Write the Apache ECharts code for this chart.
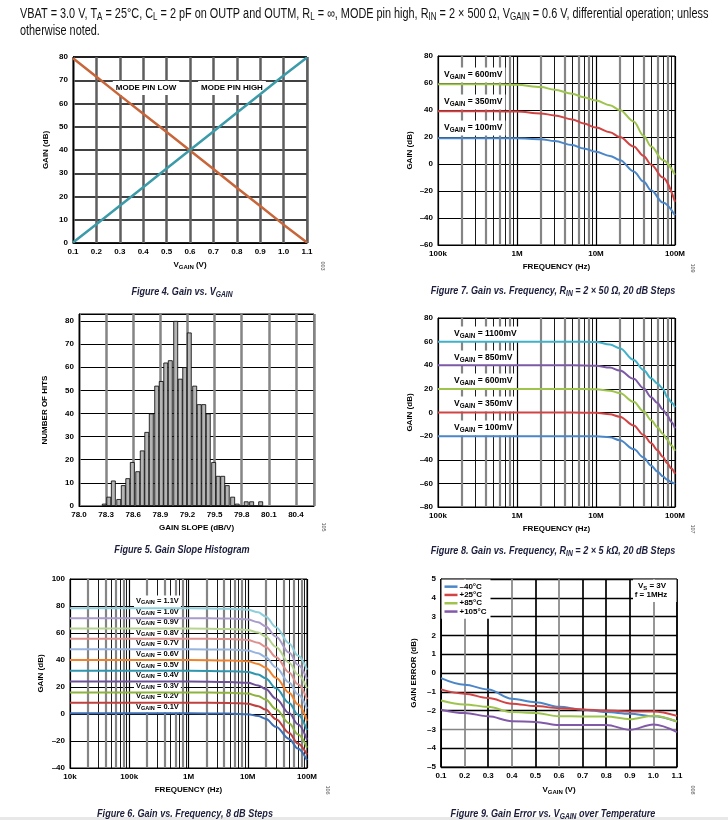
<!DOCTYPE html>
<html><head><meta charset="utf-8">
<script src="https://cdn.jsdelivr.net/npm/echarts@6/dist/echarts.min.js"></script>
<style>html,body{margin:0;padding:0;background:#fff}#c{width:728px;height:820px}</style>
</head><body><div id="c"></div>
<script>
// ---------------- DATA ----------------
// Figure 4: Gain vs VGAIN
const fig4X = [0.1,0.2,0.3,0.4,0.5,0.6,0.7,0.8,0.9,1.0,1.1];
const fig4ModeLow = [79.5,71.5,63.5,55.6,47.7,39.8,31.8,23.8,15.9,7.9,0.2];
const fig4ModeHigh = [0.2,8.1,16.0,24.0,32.0,40.0,48.0,56.0,64.0,72.0,79.8];
const fig4XTickLabels = ['0.1','0.2','0.3','0.4','0.5','0.6','0.7','0.8','0.9','1.0','1.1'];
const fig4YTickLabels = ['0','10','20','30','40','50','60','70','80'];

// Figure 5: Gain slope histogram
const fig5BinCenters = [78.28,78.33,78.38,78.44,78.49,78.54,78.59,78.65,78.70,78.75,78.80,78.86,78.91,78.96,79.01,79.07,79.12,79.17,79.22,79.28,79.33,79.38,79.43,79.49,79.54,79.59,79.64,79.70,79.75,79.80,79.85,79.91,79.96,80.01];
const fig5Counts = [1,4,11,3,9,12,19,15,24,32,40,52,54,62,63,80,55,60,75,52,44,44,40,19,13,13,9,4,1,0,2,2,0,2];
const fig5XTickLabels = ['78.0','78.3','78.6','78.9','79.2','79.5','79.8','80.1','80.4'];
const fig5YTickLabels = ['0','10','20','30','40','50','60','70','80'];

// Figure 7: Gain vs Frequency, RIN = 2x50
const fig7Freq = [1e5,5e5,1e6,2e6,3e6,5e6,7e6,1e7,1.5e7,2e7,3e7,4e7,5e7,7e7,1e8];
const fig7V600 = [59,59,58.7,57,55,52,49.5,47,43.5,40,31.5,21,13,3,-8];
const fig7V350 = [39,39,38.8,37.5,36,33,30,27,23.5,20,13,6,-0.5,-10,-28];
const fig7V100 = [19,19,19,18.4,17,14,11.5,9,6,3,-5.5,-13,-19.5,-28.5,-38];
const fig7XTickLabels = ['100k','1M','10M','100M'];
const fig7YTickLabels = ['–60','–40','–20','0','20','40','60','80'];

// Figure 8: Gain vs Frequency, RIN = 2x5k
const fig8Freq = [1e5,1e6,5e6,1e7,1.5e7,2e7,3e7,4e7,5e7,6e7,7e7,8e7,9e7,1e8];
const fig8V1100 = [60,60,60,59.6,57.5,54.3,44.5,36,29,24.5,20.3,13,8.5,4.5];
const fig8V850 = [40,40,40,39.6,38,35.5,28.5,20.5,13,8,2.5,-2.5,-8,-13.5];
const fig8V600 = [20,20,20,19.7,18.5,16.5,9,1,-6.5,-12.5,-18,-23,-28,-32.5];
const fig8V350 = [0,0,0,-0.3,-1.5,-3.5,-11,-19,-26,-32,-37.5,-43,-47.5,-52];
const fig8V100 = [-20,-20,-20,-20.2,-21,-23.5,-31,-38,-45,-50,-54,-57,-59,-60.5];
const fig8XTickLabels = ['100k','1M','10M','100M'];
const fig8YTickLabels = ['–80','–60','–40','–20','0','20','40','60','80'];

// Figure 6: Gain vs Frequency, 8 dB steps
const fig6Freq = [1e4,1e5,1e6,5e6,1e7,1.5e7,2e7,3e7,5e7,7e7,1e8];
const fig6V11 = [78.3,78.3,78.3,78,77.3,75.3,72.3,64.3,52.3,43.3,32.8];
const fig6V10 = [71,71,71,70.7,70,68,65,57.2,45.5,36.5,26];
const fig6V09 = [63.3,63.3,63.3,63,62.3,60.3,57.4,49.6,38,29.2,19];
const fig6V08 = [55.8,55.8,55.8,55.5,54.8,52.8,49.9,42.2,30.8,22,11];
const fig6V07 = [48,48,48,47.7,47,45,42.2,34.5,23.3,14.6,4];
const fig6V06 = [40,40,40,39.7,39,37.1,34.3,26.8,15.8,7.2,-5];
const fig6V05 = [32,32,32,31.7,31.1,29.2,26.5,19,8.2,-0.3,-12];
const fig6V04 = [24,24,24,23.7,23.1,21.2,18.6,11.3,0.7,-7.6,-19];
const fig6V03 = [16,16,16,15.7,15.1,13.3,10.7,3.5,-6.8,-15,-25];
const fig6V02 = [8.4,8.4,8.4,8.2,7.6,5.8,3.3,-3.8,-14,-21.8,-30];
const fig6V01 = [0.5,0.5,0.5,0.3,-0.2,-1.5,-3.5,-9.5,-18.5,-25.5,-34.3];
const fig6XTickLabels = ['10k','100k','1M','10M','100M'];
const fig6YTickLabels = ['–40','–20','0','20','40','60','80','100'];
const fig6CurveLabels = ['1.1V','1.0V','0.9V','0.8V','0.7V','0.6V','0.5V','0.4V','0.3V','0.2V','0.1V'];

// Figure 9: Gain error vs VGAIN over temperature
const fig9X = [0.1,0.2,0.3,0.4,0.5,0.6,0.7,0.8,0.9,1.0,1.1];
const fig9M40 = [-0.27,-0.62,-0.88,-1.37,-1.55,-1.8,-1.95,-2.08,-2.17,-2.3,-2.58];
const fig9P25 = [-0.87,-1.1,-1.33,-1.63,-1.76,-1.87,-1.94,-2.0,-2.05,-2.05,-2.28];
const fig9P85 = [-1.46,-1.67,-1.8,-2.08,-2.13,-2.3,-2.31,-2.31,-2.46,-2.27,-2.58];
const fig9P105 = [-1.95,-2.13,-2.3,-2.56,-2.6,-2.77,-2.76,-2.76,-3.02,-2.74,-3.14];
const fig9Names = ['–40°C','+25°C','+85°C','+105°C'];
const fig9XTickLabels = ['0.1','0.2','0.3','0.4','0.5','0.6','0.7','0.8','0.9','1.0','1.1'];
const fig9YTickLabels = ['–5','–4','–3','–2','–1','0','1','2','3','4','5'];

// ---------------- STYLE / HELPERS ----------------
const SANS = "'Liberation Sans', Arial, sans-serif";
const GRAY = '#858585';

function zip(xs, ys){ return xs.map((x,i)=>[x, ys[i]]); }
function linLabels(labels, min, step){ return v => { const i = Math.round((v-min)/step); return labels[i] !== undefined ? labels[i] : ''; }; }
function logLabels(labels, minExp){ return v => { const i = Math.round(Math.log10(v)) - minExp; return labels[i] !== undefined ? labels[i] : ''; }; }

const subRich = (size) => ({ s: { fontSize: size*0.75, fontFamily: SANS, fontWeight:'bold', lineHeight: Math.round(size*0.6), verticalAlign:'bottom' } });

function ax(gridIndex, extra){
  return Object.assign({
    gridIndex,
    nameLocation:'middle',
    axisLine:{show:true, onZero:false, lineStyle:{color:'#000', width:1}},
    axisTick:{show:false},
    axisLabel:{fontFamily:SANS, fontWeight:'bold', fontSize:8, color:'#000', margin:5},
    nameTextStyle:{fontFamily:SANS, fontWeight:'bold', fontSize:8, color:'#000', lineHeight:10, rich: subRich(8)},
  }, extra);
}

function txt(x, y, text, o){
  o = o || {};
  const size = o.size || 8, fam = o.family || SANS, w = o.weight || 'bold', st = o.fstyle || 'normal';
  const col = o.color || '#000';
  return {
    type:'text', x, y, z: (o.z != null ? o.z : 10), rotation: o.rot || 0, scaleX: o.sx || 1, silent:true,
    style:{
      text, fontSize:size, fontFamily:fam, fontWeight:w, fontStyle:st, fill:col,
      lineHeight: o.lh || Math.round(size*1.25),
      align: o.align || 'left', verticalAlign:'middle',
      backgroundColor: o.bg || null, padding: o.pad || 0,
      rich:{ s:{ fontSize: size*0.74, fontFamily:fam, fontWeight:w, fontStyle:st, fill:col,
                 lineHeight: Math.round(size*0.6), verticalAlign:'bottom' } }
    }
  };
}

function lineSeries(xi, data, color, width, name, extra){
  return Object.assign({
    type:'line', name, xAxisIndex:xi, yAxisIndex:xi, data, showSymbol:false, symbol:'none',
    smooth:0.35, smoothMonotone:'x', silent:true, animation:false, z:3,
    lineStyle:{color, width}, itemStyle:{color}
  }, extra||{});
}

function minorGrid(xi, decadeStart, decadeEnd){
  const items = [];
  for (let e = decadeStart; e < decadeEnd; e++){
    for (let m = 2; m <= 9; m++){
      const even = (m === 2 || m === 4 || m === 6 || m === 8);
      items.push({ xAxis: m * Math.pow(10, e),
        lineStyle:{ type:'solid', color: even ? GRAY : '#000', width: even ? 2.2 : 0.9 } });
    }
  }
  return { type:'line', xAxisIndex:xi, yAxisIndex:xi, data:[], silent:true, animation:false, z:1,
    markLine:{ silent:true, symbol:'none', z:1, animation:false, label:{show:false}, data: items } };
}

// ---------------- GRIDS ----------------
const grids = [
  {left:73, top:57, width:234, height:186},   // Fig4
  {left:438, top:56, width:237, height:189},  // Fig7
  {left:79, top:314, width:235, height:192},  // Fig5
  {left:438, top:318, width:237, height:189}, // Fig8
  {left:70, top:579, width:237, height:189},  // Fig6
  {left:441, top:579, width:236, height:188}  // Fig9
].map(g => Object.assign({show:true, borderColor:'#000', borderWidth:1, backgroundColor:'transparent', containLabel:false}, g));

const hSplit = {show:true, lineStyle:{color:'#000', width:1.2}};
const decSplit = {show:true, lineStyle:{color:'#000', width:1.2}};

const xAxes = [
  ax(0, {type:'value', min:0.1, max:1.1, interval:0.1, name:'V{s|GAIN} (V)', nameGap:17,
    splitLine:{show:true, lineStyle:{color:'#5e5e5e', width:2.5}},
    axisLabel:Object.assign({}, ax(0).axisLabel, {formatter: linLabels(fig4XTickLabels, 0.1, 0.1)})}),
  ax(1, {type:'log', logBase:10, min:1e5, max:1e8, name:'FREQUENCY (Hz)', nameGap:17, splitLine:decSplit,
    axisLabel:Object.assign({}, ax(1).axisLabel, {formatter: logLabels(fig7XTickLabels, 5)})}),
  ax(2, {type:'value', min:78.0, max:80.6, interval:0.3, name:'GAIN SLOPE (dB/V)', nameGap:17,
    splitLine:{show:true, lineStyle:{color:GRAY, width:2.5}},
    axisLabel:Object.assign({}, ax(2).axisLabel, {showMaxLabel:false, formatter: linLabels(fig5XTickLabels, 78.0, 0.3)})}),
  ax(3, {type:'log', logBase:10, min:1e5, max:1e8, name:'FREQUENCY (Hz)', nameGap:17, splitLine:decSplit,
    axisLabel:Object.assign({}, ax(3).axisLabel, {formatter: logLabels(fig8XTickLabels, 5)})}),
  ax(4, {type:'log', logBase:10, min:1e4, max:1e8, name:'FREQUENCY (Hz)', nameGap:17, splitLine:decSplit,
    axisLabel:Object.assign({}, ax(4).axisLabel, {formatter: logLabels(fig6XTickLabels, 4)})}),
  ax(5, {type:'value', min:0.1, max:1.1, interval:0.1, name:'V{s|GAIN} (V)', nameGap:18,
    splitLine:{show:true, lineStyle:{color:['#000',GRAY,'#000',GRAY,'#000',GRAY,'#000','#000','#000',GRAY,'#000'], width:1.7}},
    axisLabel:Object.assign({}, ax(5).axisLabel, {formatter: linLabels(fig9XTickLabels, 0.1, 0.1)})})
];

const yAxes = [
  ax(0, {type:'value', min:0, max:80, interval:10, name:'GAIN (dB)', nameGap:22,
    splitLine:{show:true, lineStyle:{color:'#000', width:1.5}},
    axisLabel:Object.assign({}, ax(0).axisLabel, {formatter: linLabels(fig4YTickLabels, 0, 10)})}),
  ax(1, {type:'value', min:-60, max:80, interval:20, name:'GAIN (dB)', nameGap:23, splitLine:hSplit,
    axisLabel:Object.assign({}, ax(1).axisLabel, {formatter: linLabels(fig7YTickLabels, -60, 20)})}),
  ax(2, {type:'value', min:0, max:83, interval:10, name:'NUMBER OF HITS', nameGap:29, splitLine:hSplit,
    axisLabel:Object.assign({}, ax(2).axisLabel, {showMaxLabel:false, formatter: linLabels(fig5YTickLabels, 0, 10)})}),
  ax(3, {type:'value', min:-80, max:80, interval:20, name:'GAIN (dB)', nameGap:23, splitLine:hSplit,
    axisLabel:Object.assign({}, ax(3).axisLabel, {formatter: linLabels(fig8YTickLabels, -80, 20)})}),
  ax(4, {type:'value', min:-40, max:100, interval:20, name:'GAIN (dB)', nameGap:24, splitLine:hSplit,
    axisLabel:Object.assign({}, ax(4).axisLabel, {formatter: linLabels(fig6YTickLabels, -40, 20)})}),
  ax(5, {type:'value', min:-5, max:5, interval:1, name:'GAIN ERROR (dB)', nameGap:22,
    splitLine:{show:true, lineStyle:{color:['#000','#000',GRAY,'#000','#000','#000','#000','#000','#000','#000','#000'], width:1.4}},
    axisLabel:Object.assign({}, ax(5).axisLabel, {formatter: linLabels(fig9YTickLabels, -5, 1)})})
];

// ---------------- SERIES ----------------
const fig6Colors = ['#8fcfdc','#a99bca','#b6d48f','#dd908d','#96b4de','#f2822a','#2f96b0','#6d4f98','#8db33d','#c0403f','#3e6fb5'];
const fig6Data = [fig6V11,fig6V10,fig6V09,fig6V08,fig6V07,fig6V06,fig6V05,fig6V04,fig6V03,fig6V02,fig6V01];

const series = [
  lineSeries(0, zip(fig4X, fig4ModeLow), '#c8663a', 2.5, 'MODE PIN LOW', {smooth:false}),
  lineSeries(0, zip(fig4X, fig4ModeHigh), '#3c9ba9', 2.5, 'MODE PIN HIGH', {smooth:false}),

  minorGrid(1, 5, 8),
  lineSeries(1, zip(fig7Freq, fig7V600), '#9ec44e', 2, 'f7a'),
  lineSeries(1, zip(fig7Freq, fig7V350), '#d24444', 2, 'f7b'),
  lineSeries(1, zip(fig7Freq, fig7V100), '#4a86c8', 2, 'f7c'),

  {type:'bar', xAxisIndex:2, yAxisIndex:2, data: zip(fig5BinCenters, fig5Counts), barWidth:4.8, silent:true, animation:false, z:3,
    itemStyle:{color:'#b4b4b4', borderColor:'#000', borderWidth:0.8}},

  minorGrid(3, 5, 8),
  lineSeries(3, zip(fig8Freq, fig8V1100), '#3fb1c9', 2, 'f8a'),
  lineSeries(3, zip(fig8Freq, fig8V850), '#7d5aa6', 2, 'f8b'),
  lineSeries(3, zip(fig8Freq, fig8V600), '#9ec44e', 2, 'f8c'),
  lineSeries(3, zip(fig8Freq, fig8V350), '#d24444', 2, 'f8d'),
  lineSeries(3, zip(fig8Freq, fig8V100), '#4a86c8', 2, 'f8e'),

  minorGrid(4, 4, 8),
  ...fig6Data.map((d,i) => lineSeries(4, zip(fig6Freq, d), fig6Colors[i], 2, 'f6_'+i)),

  lineSeries(5, zip(fig9X, fig9M40), '#4a86c8', 2, fig9Names[0]),
  lineSeries(5, zip(fig9X, fig9P25), '#d24444', 2, fig9Names[1]),
  lineSeries(5, zip(fig9X, fig9P85), '#9ec44e', 2, fig9Names[2]),
  lineSeries(5, zip(fig9X, fig9P105), '#8259a8', 2, fig9Names[3])
];

// ---------------- TEXT ----------------
const CAP = {size:11.5, fstyle:'italic', weight:'bold', align:'center', color:'#1b1d3a', sx:0.79};
const LBL = {bg:'#fff', pad:[2,3,2,3], z:2, size:8.5};
const HDR = {size:14, weight:'normal', lh:17, sx:0.777, color:'#111'};
const elements = [
  txt(20, 14, 'VBAT = 3.0 V, T{s|A} = 25°C, C{s|L} = 2 pF on OUTP and OUTM, R{s|L} = ∞, MODE pin high, R{s|IN} = 2 × 500 Ω, V{s|GAIN} = 0.6 V, differential operation; unless', HDR),
  txt(20, 31, 'otherwise noted.', HDR),

  txt(182, 292, 'Figure 4. Gain vs. V{s|GAIN}', CAP),
  txt(553, 291, 'Figure 7. Gain vs. Frequency, R{s|IN} = 2 × 50 Ω, 20 dB Steps', CAP),
  txt(182, 550, 'Figure 5. Gain Slope Histogram', CAP),
  txt(553, 551, 'Figure 8. Gain vs. Frequency, R{s|IN} = 2 × 5 kΩ, 20 dB Steps', CAP),
  txt(185, 814, 'Figure 6. Gain vs. Frequency, 8 dB Steps', CAP),
  txt(553, 814, 'Figure 9. Gain Error vs. V{s|GAIN} over Temperature', CAP),

  txt(146, 88, 'MODE PIN LOW', Object.assign({}, LBL, {align:'center', size:8})),
  txt(232, 88, 'MODE PIN HIGH', Object.assign({}, LBL, {align:'center', size:8})),

  txt(441, 75, 'V{s|GAIN} = 600mV', LBL),
  txt(441, 102, 'V{s|GAIN} = 350mV', LBL),
  txt(441, 128, 'V{s|GAIN} = 100mV', LBL),

  txt(451, 334, 'V{s|GAIN} = 1100mV', LBL),
  txt(451, 358, 'V{s|GAIN} = 850mV', LBL),
  txt(451, 381, 'V{s|GAIN} = 600mV', LBL),
  txt(451, 404, 'V{s|GAIN} = 350mV', LBL),
  txt(451, 428, 'V{s|GAIN} = 100mV', LBL),

  ...fig6CurveLabels.map((l,i) => txt(134, 601 + i*10.6, 'V{s|GAIN} = ' + l, {bg:'#fff', pad:[1,2,1,2], z:2, size:7.5})),

  {type:'rect', z:2, silent:true, shape:{x:633, y:579.5, width:43.5, height:22.5}, style:{fill:'#fff'}},
  txt(652, 586, 'V{s|S} = 3V', {align:'center', size:8, z:3}),
  txt(651, 595, 'f = 1MHz', {align:'center', size:8, z:3}),

  txt(323, 266, '003', {size:5.5, weight:'normal', color:'#555', align:'center', rot:-Math.PI/2}),
  txt(693, 268, '109', {size:5.5, weight:'normal', color:'#555', align:'center', rot:-Math.PI/2}),
  txt(324, 527, '105', {size:5.5, weight:'normal', color:'#555', align:'center', rot:-Math.PI/2}),
  txt(693, 529, '107', {size:5.5, weight:'normal', color:'#555', align:'center', rot:-Math.PI/2}),
  txt(328, 790, '106', {size:5.5, weight:'normal', color:'#555', align:'center', rot:-Math.PI/2}),
  txt(693, 790, '008', {size:5.5, weight:'normal', color:'#555', align:'center', rot:-Math.PI/2}),

  {type:'rect', z:0, silent:true, shape:{x:0, y:817, width:728, height:3}, style:{fill:'#e8e8e8'}}
];

const option = {
  animation:false,
  backgroundColor:'#fff',
  grid: grids,
  xAxis: xAxes,
  yAxis: yAxes,
  legend: {
    data: fig9Names, left:441.5, top:579.5, orient:'vertical', itemGap:0, itemWidth:13, itemHeight:2.5, icon:'rect',
    padding:[3,4,3,3], backgroundColor:'#fff', z:4,
    textStyle:{fontFamily:SANS, fontSize:8, fontWeight:'bold', color:'#000', lineHeight:8.3, padding:[0,0,0,-3]},
    selectedMode:false
  },
  series,
  graphic:{ elements }
};

const chart = echarts.init(document.getElementById('c'), null, {renderer:'canvas'});
chart.setOption(option);
</script>
</body></html>
